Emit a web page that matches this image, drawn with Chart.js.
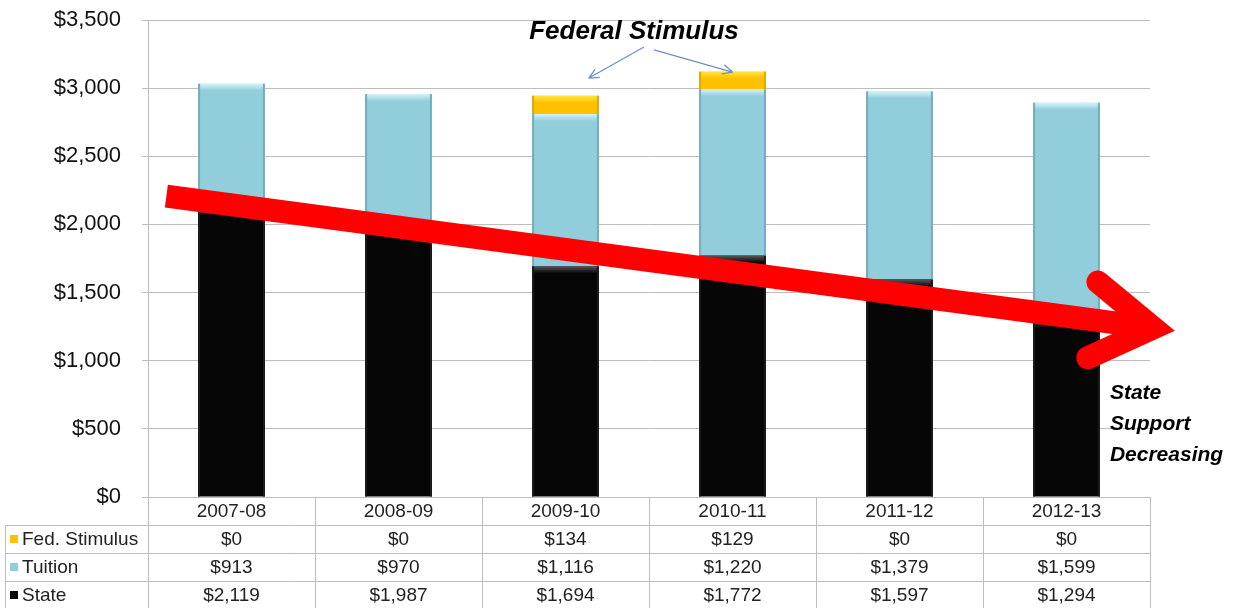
<!DOCTYPE html>
<html>
<head>
<meta charset="utf-8">
<script src="https://cdn.jsdelivr.net/npm/chart.js@4/dist/chart.umd.min.js"></script>
<style>
  html, body { margin: 0; background: #fff; }
  #wrap { width: 1238px; height: 608px; }
</style>
</head>
<body>
<div id="wrap"><canvas id="chart" width="1238" height="608"></canvas></div>
<script>
// Funding per student by source, 2007-08 through 2012-13
const years = ['2007-08', '2008-09', '2009-10', '2010-11', '2011-12', '2012-13'];
const stateSupport = [2119, 1987, 1694, 1772, 1597, 1294];
const tuition = [913, 970, 1116, 1220, 1379, 1599];
const fedStimulus = [0, 0, 134, 129, 0, 0];
const yTicks = [0, 500, 1000, 1500, 2000, 2500, 3000, 3500];

const FONT = 'Arial, "Liberation Sans", sans-serif';
const GRID = '#bdbdbd';

const money = (v) => '$' + v.toLocaleString('en-US');

// light strip on top of each segment, darker edges on the sides
const bevel = {
  id: 'bevel',
  afterDatasetsDraw(chart) {
    const ctx = chart.ctx;
    chart.data.datasets.forEach((ds, i) => {
      const meta = chart.getDatasetMeta(i);
      meta.data.forEach((bar) => {
        const { x, y, base, width } = bar.getProps(['x', 'y', 'base', 'width'], true);
        const h = base - y;
        if (h < 1) return;
        const l = x - width / 2;
        const strip = Math.min(7, h / 2);
        const g = ctx.createLinearGradient(0, y, 0, y + strip);
        g.addColorStop(0, ds.edgeTop);
        g.addColorStop(1, ds.backgroundColor);
        ctx.save();
        ctx.fillStyle = g;
        ctx.fillRect(l, y, width, strip);
        ctx.fillStyle = ds.edgeSide;
        ctx.fillRect(l, y, 2, h);
        ctx.fillRect(l + width - 2, y, 2, h);
        ctx.restore();
      });
    });
  }
};

// data table under the plot, red trend arrow and the two callouts
const extras = {
  id: 'extras',
  afterDraw(chart) {
    const ctx = chart.ctx;
    const area = chart.chartArea;
    const xs = chart.scales.x;
    const ys = chart.scales.y;
    const n = years.length;
    const colW = (area.right - area.left) / n;
    const rowH = 28;
    const top = area.bottom;

    ctx.save();
    ctx.strokeStyle = GRID;
    ctx.lineWidth = 1;
    ctx.beginPath();
    for (let i = 0; i <= n; i++) {
      const px = Math.round(area.left + i * colW) + 0.5;
      ctx.moveTo(px, top);
      ctx.lineTo(px, top + rowH * 4);
    }
    ctx.moveTo(5.5, top + rowH);
    ctx.lineTo(5.5, top + rowH * 4);
    for (let r = 1; r <= 4; r++) {
      const py = Math.round(top + r * rowH) + 0.5;
      ctx.moveTo(5, py);
      ctx.lineTo(area.right, py);
    }
    ctx.stroke();

    ctx.font = '19px ' + FONT;
    ctx.fillStyle = '#222';
    ctx.textAlign = 'center';
    ctx.textBaseline = 'middle';
    years.forEach((yr, i) => ctx.fillText(yr, xs.getPixelForValue(i), top + rowH / 2 + 1));

    const rows = [2, 1, 0].map((k) => chart.data.datasets[k]);
    rows.forEach((ds, r) => {
      const cy = top + rowH * (r + 1.5) + 1;
      ctx.fillStyle = ds.backgroundColor;
      ctx.fillRect(10, cy - 5, 8, 8);
      ctx.fillStyle = '#222';
      ctx.textAlign = 'left';
      ctx.fillText(ds.label, 22, cy);
      ctx.textAlign = 'center';
      ds.data.forEach((v, i) => ctx.fillText(money(v), xs.getPixelForValue(i), cy));
    });

    // red trend arrow
    const p = (i, v) => [xs.getPixelForValue(i), ys.getPixelForValue(v)];
    const [sx, sy] = p(-0.39, 2208);
    const [tx, ty] = p(5.52, 1240);
    const ang = Math.atan2(ty - sy, tx - sx);
    const barb = 72, spread = 0.56;
    ctx.strokeStyle = '#ff0000';
    ctx.lineWidth = 23;
    ctx.lineCap = 'butt';
    ctx.beginPath();
    ctx.moveTo(sx, sy);
    ctx.lineTo(tx - 8 * Math.cos(ang), ty - 8 * Math.sin(ang));
    ctx.stroke();
    ctx.lineCap = 'round';
    ctx.lineJoin = 'miter';
    ctx.miterLimit = 10;
    ctx.beginPath();
    ctx.moveTo(tx - barb * Math.cos(ang - spread), ty - barb * Math.sin(ang - spread));
    ctx.lineTo(tx, ty);
    ctx.lineTo(tx - barb * Math.cos(ang + spread), ty - barb * Math.sin(ang + spread));
    ctx.stroke();

    // thin pointers from the stimulus caption
    const pointer = (a, b) => {
      const [ax, ay] = p(a[0], a[1]);
      const [bx, by] = p(b[0], b[1]);
      const t = Math.atan2(by - ay, bx - ax);
      ctx.beginPath();
      ctx.moveTo(ax, ay);
      ctx.lineTo(bx, by);
      ctx.moveTo(bx - 11 * Math.cos(t - 0.45), by - 11 * Math.sin(t - 0.45));
      ctx.lineTo(bx, by);
      ctx.lineTo(bx - 11 * Math.cos(t + 0.45), by - 11 * Math.sin(t + 0.45));
      ctx.stroke();
    };
    ctx.strokeStyle = '#6f8fc4';
    ctx.lineWidth = 1.3;
    ctx.lineCap = 'butt';
    ctx.lineJoin = 'round';
    pointer([2.47, 3302], [2.14, 3074]);
    pointer([2.53, 3280], [3.0, 3118]);

    ctx.fillStyle = '#000';
    ctx.font = 'italic bold 26px ' + FONT;
    ctx.textAlign = 'center';
    ctx.textBaseline = 'middle';
    const [fx, fy] = p(2.41, 3410);
    ctx.fillText('Federal Stimulus', fx, fy);

    ctx.font = 'italic bold 21px ' + FONT;
    ctx.textAlign = 'left';
    const [lx, ly] = p(5.26, 760);
    ['State', 'Support', 'Decreasing'].forEach((w, k) => ctx.fillText(w, lx, ly + k * 31));
    ctx.restore();
  }
};

new Chart(document.getElementById('chart'), {
  type: 'bar',
  data: {
    labels: years,
    datasets: [
      { label: 'State', data: stateSupport, backgroundColor: '#060606', edgeTop: '#5a5a5a', edgeSide: '#1a1a1a' },
      { label: 'Tuition', data: tuition, backgroundColor: '#92cddc', edgeTop: '#d4f4f8', edgeSide: '#74aebb' },
      { label: 'Fed. Stimulus', data: fedStimulus, backgroundColor: '#ffc000', edgeTop: '#ffe640', edgeSide: '#e0a800' }
    ]
  },
  options: {
    responsive: false,
    devicePixelRatio: 1,
    animation: false,
    layout: { padding: { left: 0, right: 88, top: 20, bottom: 111 } },
    datasets: { bar: { categoryPercentage: 1, barPercentage: 0.4 } },
    plugins: { legend: { display: false }, tooltip: { enabled: false } },
    scales: {
      x: { stacked: true, display: false },
      y: {
        stacked: true,
        min: 0,
        max: 3500,
        afterBuildTicks: (s) => { s.ticks = yTicks.map((v) => ({ value: v })); },
        afterFit: (s) => {
          s.width = 148;
          s.paddingTop = 0;
          s.paddingBottom = 0;
        },
        border: { display: true, color: GRID },
        grid: { color: GRID, tickLength: 6 },
        ticks: {
          padding: 21,
          color: '#111',
          font: { family: FONT, size: 22 },
          callback: (v) => money(v)
        }
      }
    }
  },
  plugins: [bevel, extras]
});
</script>
</body>
</html>
